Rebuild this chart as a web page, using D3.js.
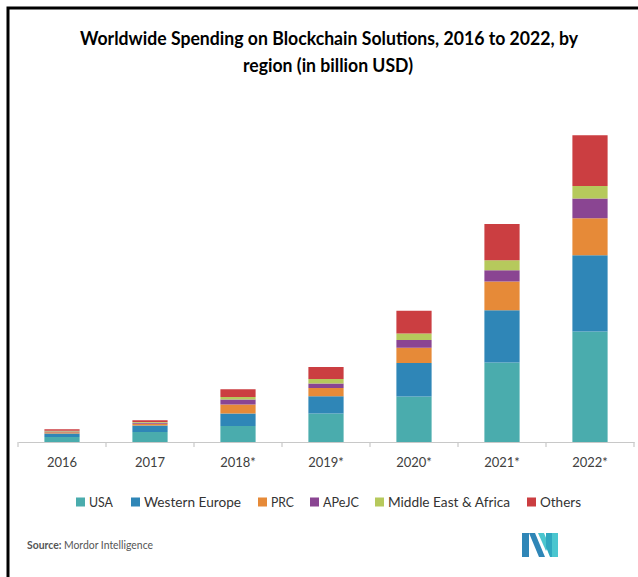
<!DOCTYPE html>
<html>
<head>
<meta charset="utf-8">
<script src="https://cdn.jsdelivr.net/npm/d3@7/dist/d3.min.js"></script>
<style>
  html, body { margin: 0; padding: 0; background: #fff; }
  svg { display: block; }
  text { font-family: Lato, "Open Sans", sans-serif; }
</style>
</head>
<body>
<svg id="chart" width="638" height="577"></svg>
<script>
// Spending on blockchain solutions, billion USD
const years = ["2016", "2017", "2018*", "2019*", "2020*", "2021*", "2022*"];
const regions = ["USA", "Western Europe", "PRC", "APeJC", "Middle East & Africa", "Others"];
const usa           = [0.20, 0.40, 0.64, 1.14, 1.82, 3.18, 4.42];
const westernEurope = [0.14, 0.26, 0.50, 0.69, 1.34, 2.09, 3.05];
const prc           = [0.05, 0.07, 0.36, 0.33, 0.61, 1.15, 1.48];
const apejc         = [0.03, 0.04, 0.20, 0.18, 0.31, 0.45, 0.79];
const mea           = [0.03, 0.03, 0.10, 0.18, 0.26, 0.40, 0.50];
const others        = [0.06, 0.07, 0.31, 0.48, 0.91, 1.45, 2.03];
const colors = ["#4aacad", "#2f86b7", "#e68a38", "#8a4592", "#b6c95c", "#cb3e41"];

const seriesValues = [usa, westernEurope, prc, apejc, mea, others];
const rows = years.map((yr, i) => {
  const r = { year: yr };
  regions.forEach((reg, k) => { r[reg] = seriesValues[k][i]; });
  return r;
});

const svg = d3.select("#chart");

// frame
svg.append("path")
  .attr("d", "M8,577 L8,8 L638,8")
  .attr("fill", "none")
  .attr("stroke", "#000")
  .attr("stroke-width", 3);

// title
const title = svg.append("g").attr("font-weight", "bold").attr("fill", "#000").attr("text-anchor", "middle");
title.append("text").attr("x", 329).attr("y", 45).attr("font-size", 18)
  .attr("textLength", 498).attr("lengthAdjust", "spacingAndGlyphs")
  .text("Worldwide Spending on Blockchain Solutions, 2016 to 2022, by");
title.append("text").attr("x", 328).attr("y", 72).attr("font-size", 18)
  .attr("textLength", 170).attr("lengthAdjust", "spacingAndGlyphs")
  .text("region (in billion USD)");

const baseY = 442;
const x = d3.scaleBand().domain(years).range([18, 634]).paddingInner(0.6).paddingOuter(0.3);
const y = d3.scaleLinear().domain([0, 14]).range([baseY, baseY - 14 * 25]);
const color = d3.scaleOrdinal().domain(regions).range(colors);

const stacked = d3.stack().keys(regions)(rows);

svg.append("g")
  .selectAll("g")
  .data(stacked)
  .join("g")
  .attr("fill", d => color(d.key))
  .selectAll("rect")
  .data(d => d)
  .join("rect")
  .attr("x", d => x(d.data.year))
  .attr("width", x.bandwidth())
  .attr("y", d => y(d[1]))
  .attr("height", d => y(d[0]) - y(d[1]));

// category axis
const axis = svg.append("g")
  .attr("transform", `translate(0,${baseY})`)
  .call(d3.axisBottom(x).tickSize(0).tickPadding(16));
axis.select(".domain").attr("stroke", "#c8c8c8").attr("stroke-width", 1.2);
axis.selectAll("text").attr("font-size", 13).attr("fill", "#404040").attr("font-family", "Lato, sans-serif");

// boundary ticks between categories
const bounds = d3.range(years.length + 1).map(i => x.range()[0] + i * x.step());
axis.selectAll(".bound")
  .data(bounds)
  .join("line")
  .attr("class", "bound")
  .attr("x1", d => d).attr("x2", d => d)
  .attr("y1", 0).attr("y2", 5)
  .attr("stroke", "#c8c8c8").attr("stroke-width", 1.2);

// legend
const legendX = [76, 131, 258, 310, 375, 527];
const legendW = [24, 97, 23, 36, 122, 41];
const legend = svg.append("g").attr("transform", "translate(0,502)");
const item = legend.selectAll("g")
  .data(regions)
  .join("g")
  .attr("transform", (d, i) => `translate(${legendX[i]},0)`);
item.append("rect")
  .attr("x", 0).attr("y", -4.5).attr("width", 9).attr("height", 9)
  .attr("fill", d => color(d));
item.append("text")
  .attr("x", 13).attr("y", 5)
  .attr("font-size", 14).attr("fill", "#333")
  .attr("textLength", (d, i) => legendW[i]).attr("lengthAdjust", "spacingAndGlyphs")
  .text(d => d);

// source note
const src = svg.append("text").attr("x", 27).attr("y", 549).attr("font-size", 11).attr("fill", "#555")
  .attr("textLength", 126).attr("lengthAdjust", "spacingAndGlyphs");
src.append("tspan").attr("font-weight", "bold").text("Source: ");
src.append("tspan").text("Mordor Intelligence");

// logo mark
const logo = svg.append("g").attr("transform", "translate(522,533)");
logo.append("path").attr("d", "M0,0 L7,0 L7,24 L0,24 Z").attr("fill", "#2f86b7");
logo.append("path").attr("d", "M7,0 L13,0 L23,24 L17,24 Z").attr("fill", "#2f86b7");
logo.append("path").attr("d", "M16,0 L22,0 L27,12 L24,18 Z").attr("fill", "#4ac6cf");
logo.append("path").attr("d", "M24,0 L30,0 L30,24 L28,24 L24,14 Z").attr("fill", "#2fa8c0");
logo.append("path").attr("d", "M30,0 L36,0 L36,24 L30,24 Z").attr("fill", "#4ac6cf");
</script>
</body>
</html>
